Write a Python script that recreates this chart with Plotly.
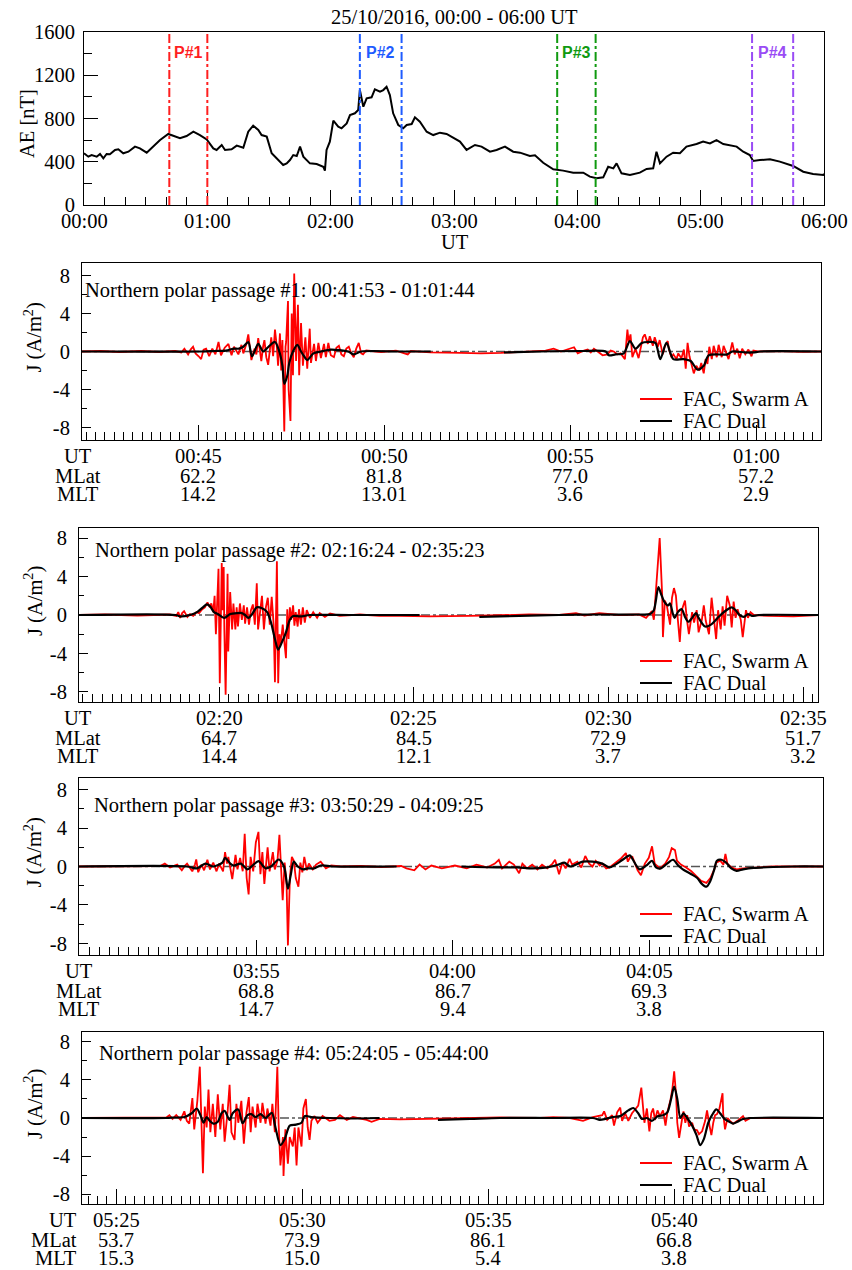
import plotly.graph_objects as go

W, H = 852, 1270
SERIF = "Liberation Serif"
SANS = "Liberation Sans"
FS = 20.5

# ---------------------------------------------------------------------------
# AE index, 25/10/2016 00:00-06:00 UT  (minutes after 00:00 UT, nT)
# ---------------------------------------------------------------------------
ae_min = [0, 2.1, 3.7, 6.2, 7.8, 9.4, 11.0, 12.6, 15.1, 16.7,
          19.1, 21.6, 24.8, 27.2, 30.5, 33.7, 37.0, 41.0, 43.4, 46.7,
          49.9, 53.2, 56.4, 59.7, 62.9, 64.5, 67.0, 68.6, 71.8, 74.3,
          77.5, 79.9, 82.3, 84.8, 86.4, 88.9, 91.3, 94.5, 96.9, 98.6,
          100.2, 101.8, 103.5, 105.1, 106.7, 109.9, 113.2, 116.4, 117.2, 118.0,
          119.6, 121.3, 123.7, 125.3, 127.8, 129.4, 131.8, 133.4, 134.2, 135.9,
          137.5, 139.9, 141.5, 144.0, 145.6, 147.2, 148.8, 150.4, 152.9, 155.3,
          157.0, 159.4, 161.0, 163.4, 166.7, 169.9, 173.2, 176.4, 182.9, 186.1,
          190.2, 193.4, 197.5, 200.7, 204.8, 208.8, 212.1, 216.9, 219.4, 223.4,
          228.3, 233.1, 238.0, 242.9, 246.1, 249.4, 252.6, 255.0, 257.5, 259.1,
          261.5, 265.6, 270.4, 273.7, 276.9, 278.5, 280.2, 283.4, 286.6, 289.9,
          293.1, 298.0, 301.2, 304.5, 307.7, 311.0, 314.2, 317.5, 320.7, 323.9,
          325.5, 328.8, 333.7, 338.5, 345.0, 349.9, 354.7, 359.6, 360.0]
ae_nT = [478, 447, 462, 447, 472, 432, 472, 469, 509, 515,
         478, 493, 540, 524, 484, 540, 601, 657, 638, 617,
         638, 678, 647, 607, 524, 509, 555, 509, 515, 549,
         530, 678, 734, 694, 647, 632, 478, 416, 370, 385,
         416, 462, 453, 540, 447, 385, 379, 354, 318, 509,
         586, 780, 724, 709, 755, 832, 848, 879, 1063, 909,
         986, 996, 1070, 1048, 1063, 1094, 1017, 848, 740, 709,
         740, 749, 811, 771, 678, 647, 669, 657, 586, 509,
         555, 540, 493, 509, 540, 493, 484, 453, 459, 391,
         330, 318, 299, 299, 262, 247, 256, 354, 339, 385,
         293, 277, 299, 333, 339, 493, 385, 447, 484, 478,
         540, 564, 586, 570, 601, 564, 555, 540, 493, 462,
         407, 416, 422, 401, 361, 308, 287, 277, 290]
ae_tick_min = [0, 60, 120, 180, 240, 300, 360]
ae_tick_text = ["00:00", "01:00", "02:00", "03:00", "04:00", "05:00", "06:00"]
ae_y_ticks = [0, 400, 800, 1200, 1600]

# Passage windows marked on the AE panel (minutes after 00:00 UT)
pass_names = ["P#1", "P#2", "P#3", "P#4"]
pass_mark_start_min = [41.5, 134.2, 230.2, 325.0]
pass_mark_end_min = [60.0, 154.5, 248.9, 345.0]
pass_colors = ["#ff1f1f", "#1f5cff", "#109a10", "#9a4cf5"]

# ---------------------------------------------------------------------------
# Northern polar passages (UT)
# ---------------------------------------------------------------------------
pass_start = ["00:41:53", "02:16:24", "03:50:29", "05:24:05"]
pass_end = ["01:01:44", "02:35:23", "04:09:25", "05:44:00"]

j_tick_vals = [-8, -4, 0, 4, 8]
j_tick_text = ["-8", "-4", "0", "4", "8"]

# Passage #1 (times in s after passage start, J in A/m^2)
p1_fac_t = [0, 30, 60, 95, 125, 150, 160, 163, 165, 171,
            175, 179, 183, 188, 192, 196, 200, 205, 210, 215,
            220, 224, 230, 236, 241, 245, 252, 257, 260, 265,
            268, 271, 273, 278, 281, 284, 289, 292, 294, 297,
            300, 303, 305, 308, 311, 314, 316, 319, 321, 323,
            326, 328, 329, 332, 333, 336, 338, 340, 342, 345,
            347, 348, 350, 353, 356, 360, 363, 367, 369, 374,
            377, 381, 385, 390, 393, 397, 401, 406, 410, 414,
            418, 422, 426, 430, 434, 438, 442, 446, 450, 453,
            458, 482, 506, 525, 530, 562, 611, 643, 675, 699,
            723, 747, 760, 772, 793, 799, 809, 815, 820, 825,
            831, 839, 847, 852, 857, 863, 868, 875, 879, 881,
            884, 887, 892, 897, 904, 907, 912, 915, 920, 923,
            928, 931, 936, 939, 944, 946, 950, 953, 958, 961,
            966, 970, 973, 976, 979, 982, 986, 990, 995, 998,
            1002, 1005, 1008, 1011, 1015, 1018, 1023, 1026, 1031, 1034,
            1039, 1042, 1048, 1052, 1056, 1060, 1064, 1069, 1074, 1079,
            1082, 1089, 1125, 1158, 1191]
p1_fac_j = [0, 0.05, -0.05, 0.05, -0.05, 0.05, -0.1, 0.1, 0.3, -0.3,
            0.2, 0.5, -0.2, -0.5, -0.8, 0.2, 0.3, -0.5, 0.3, -0.3,
            1.0, -0.4, 0.4, 0.8, -0.4, 0.5, -0.3, 0.7, -0.2, 0.8,
            1.8, 0.2, -0.9, 0.3, -0.3, 1.4, -1.0, 0.6, 1.2, -0.6,
            -1.4, 0.3, 1.5, -0.5, 2.3, 0.5, -1.5, 1.9, -2.0, 1.2,
            -8.4, 0.5, 1.0, 5.3, -4.0, -7.3, 4.0, -2.5, 8.2, -1.0,
            2.0, 4.9, -2.5, 3.0, -1.5, 1.5, -1.8, 2.4, -1.2, 0.8,
            -1.0, 0.9, -0.7, 0.8, -0.6, 0.9, -0.4, -0.6, 0.4, 0.6,
            -0.3, -0.5, 0.3, 0.5, -0.2, -0.6, 0.3, 0.9, -0.2, -0.3,
            0.1, -0.05, 0.1, -0.3, 0.05, -0.1, -0.15, -0.2, -0.15, -0.05,
            0.0, 0.1, 0.3, 0.0, 0.45, -0.2, 0.1, 0.2, -0.1, 0.3,
            0.0, -0.4, -0.3, 0.1, 0.0, -0.3, -0.2, -0.8, 2.3, 1.0,
            1.8, -0.6, 0.3, -0.7, 1.5, 1.8, 0.8, 1.6, 0.6, 1.5,
            0.5, 1.2, -0.3, 0.5, 1.1, 0.2, -0.6, -0.3, -0.8, -0.2,
            -0.7, 0.2, -1.8, 0.9, -0.5, -1.2, -2.3, -1.5, -2.0, -1.2,
            -2.3, -0.8, -1.3, 0.5, -0.8, 0.6, -0.6, 0.7, -0.6, 0.6,
            -0.3, -0.8, 0.95, -0.3, 0.3, -0.7, 0.3, -0.3, 0.2, -0.5,
            0.1, 0.0, 0.05, -0.03, 0.0]
p1_dual_t = [0, 192, 213, 232, 245, 253, 260, 268, 274, 284,
             292, 302, 311, 318, 323, 326, 331, 334, 340, 347,
             353, 358, 363, 373, 385, 401, 429, 438, 450, 514,
             562, 600, 680, 739, 804, 844, 849, 860, 873, 883,
             892, 902, 912, 924, 932, 942, 953, 969, 981, 992,
             1002, 1010, 1040, 1048, 1069, 1082, 1093, 1191]
p1_dual_j = [0, 0, 0.05, 0.1, 0.3, 0.3, 0.5, 1.0, -0.5, 0.8,
             0.0, 0.6, 1.0, 0.0, -1.5, -3.4, -2.5, -1.2, 0.0, 0.7,
             0.0, -0.5, -0.9, -0.2, 0.0, 0.2, 0.0, -0.3, 0.0, 0.0,
             0.0, None, -0.1, 0.0, 0.05, 0.0, -0.4, -0.3, -0.2, 1.1,
             0.3, 0.9, 1.0, 0.9, -0.8, 0.9, -0.8, -0.8, -1.0, -1.9,
             -1.5, -0.4, -0.3, 0.0, -0.1, -0.1, 0.0, 0.0]
p1_ut = ["00:45", "00:50", "00:55", "01:00"]
p1_mlat = ["62.2", "81.8", "77.0", "57.2"]
p1_mlt = ["14.2", "13.01", "3.6", "2.9"]

# Passage #2
p2_fac_t = [0, 40, 90, 140, 150, 153, 156, 159, 162, 167,
            171, 176, 181, 185, 190, 194, 198, 201, 204, 207,
            209, 211, 214, 215, 217, 220, 221, 223, 224, 226,
            229, 230, 233, 236, 238, 241, 243, 245, 248, 251,
            254, 256, 259, 262, 265, 268, 271, 274, 276, 279,
            282, 285, 288, 291, 294, 297, 300, 302, 304, 305,
            307, 309, 311, 314, 316, 319, 321, 323, 325, 327,
            330, 332, 334, 337, 339, 342, 345, 348, 351, 356,
            361, 367, 371, 379, 387, 402, 433, 463, 494, 540,
            602, 648, 694, 740, 766, 779, 802, 832, 863, 874,
            883, 886, 889, 892, 895, 899, 900, 903, 906, 911,
            914, 917, 920, 923, 926, 929, 934, 937, 940, 945,
            948, 952, 955, 960, 963, 966, 971, 975, 979, 982,
            985, 989, 992, 995, 999, 1003, 1006, 1009, 1012, 1015,
            1020, 1023, 1028, 1031, 1035, 1040, 1063, 1101, 1139]
p2_fac_j = [0, 0.05, -0.05, 0.05, -0.1, 0.3, -0.3, 0.2, 0.4, -0.2,
            0.1, -0.1, 0.3, 0.2, 0.6, 0.8, 1.3, 0.9, 1.2, 0.3,
            2.0, -2.0, 3.0, 4.8, -7.1, 5.4, 0.5, 5.0, -1.5, -8.3,
            4.3, -3.8, 2.4, -1.5, 1.2, -1.5, 0.8, -1.2, 1.2, -0.5,
            1.0, -0.9, 0.8, -1.0, 0.5, 1.1, -1.0, 3.3, -1.5, 0.5,
            2.0, -1.5, 0.8, 1.8, -1.0, 1.9, -1.0, -7.0, 0.5, 5.6,
            -7.1, -2.0, -3.0, -1.0, -2.5, -4.5, 0.6, -2.5, 0.8, -0.5,
            1.0, -1.1, 0.3, -1.2, 0.6, -1.0, 0.8, -0.8, 0.5, -0.3,
            0.3, -0.3, 0.2, -0.2, 0.15, -0.1, 0.05, -0.1, -0.1, -0.15,
            -0.1, -0.05, 0.05, 0.0, 0.2, -0.05, 0.2, 0.0, 0.05, -0.3,
            0.4, -0.5, 2.5, 5.0, 8.0, 1.8, -2.3, 1.5, 1.0, -1.0,
            1.8, 2.8, 2.0, -0.5, -2.8, 0.5, 1.5, -0.5, -2.0, 0.3,
            -0.8, 0.5, -1.8, -0.5, 1.0, -0.6, -2.0, 1.8, -0.8, -2.5,
            0.5, -1.5, 0.9, -1.1, 2.0, 1.0, -1.3, 1.4, -0.3, 0.6,
            -0.5, -2.3, 0.5, -0.3, 0.3, 0.0, -0.1, -0.15, 0.0]
p2_dual_t = [0, 149, 156, 171, 182, 191, 197, 202, 208, 214,
             224, 233, 244, 251, 256, 261, 267, 274, 282, 290,
             296, 302, 307, 313, 319, 325, 330, 341, 356, 417,
             525, 570, 617, 679, 740, 802, 863, 880, 886, 893,
             897, 902, 908, 911, 915, 918, 923, 929, 934, 939,
             945, 951, 955, 965, 974, 983, 992, 1000, 1006, 1012,
             1018, 1025, 1031, 1037, 1048, 1139]
p2_dual_j = [0, 0, -0.15, 0.0, 0.3, 0.8, 1.1, 0.9, 0.3, 0.1,
             -0.3, 0.1, 0.2, 0.2, 0.0, -0.3, 0.1, 0.8, 0.7, 0.3,
             -0.8, -2.5, -3.6, -2.8, -1.8, -0.5, -0.1, -0.15, 0.0, 0.0,
             0.0, None, -0.2, -0.1, 0.0, 0.05, 0.05, 0.1, 0.5, 2.9,
             2.2, 1.4, 1.0, 1.2, 0.2, -0.3, 0.3, 0.6, -0.2, -0.7,
             -0.3, 0.2, -0.3, -1.2, -1.0, -0.4, 0.2, 0.6, 0.8, 0.5,
             0.0, -0.2, 0.1, -0.1, 0.0, 0.0]
p2_ut = ["02:20", "02:25", "02:30", "02:35"]
p2_mlat = ["64.7", "84.5", "72.9", "51.7"]
p2_mlt = ["14.4", "12.1", "3.7", "3.2"]

# Passage #3
p3_fac_t = [0, 50, 100, 124, 131, 139, 150, 157, 162, 165,
            170, 173, 177, 179, 182, 187, 191, 196, 200, 205,
            210, 214, 220, 223, 226, 228, 234, 239, 242, 246,
            250, 253, 256, 259, 262, 266, 270, 274, 277, 280,
            283, 288, 291, 296, 299, 303, 306, 311, 314, 317,
            319, 322, 325, 328, 331, 335, 338, 341, 344, 348,
            351, 357, 362, 369, 377, 385, 400, 431, 462, 492,
            500, 512, 520, 529, 538, 554, 574, 592, 607, 623,
            635, 641, 646, 657, 664, 672, 677, 684, 692, 700,
            707, 715, 723, 727, 733, 738, 743, 749, 753, 761,
            767, 773, 779, 784, 789, 795, 799, 805, 810, 818,
            827, 835, 838, 841, 845, 853, 858, 864, 870, 875,
            879, 887, 895, 901, 905, 910, 913, 919, 927, 935,
            942, 950, 958, 964, 970, 973, 979, 984, 987, 990,
            996, 1004, 1014, 1034, 1060, 1136]
p3_fac_j = [0, 0.0, 0.05, 0.05, 0.3, -0.1, 0.2, -0.4, 0.1, 0.3,
            -0.2, -0.5, 0.2, 0.73, -0.6, 0.2, -0.4, 0.7, -0.3, 0.4,
            -0.5, 0.3, -0.5, 1.5, 0.3, 1.0, -1.3, 1.2, -0.3, 0.9,
            -0.5, 3.4, -1.2, -2.9, 1.0, -0.5, 2.5, 3.6, -0.8, 1.5,
            -1.8, 2.0, -0.5, 1.5, -0.3, 0.6, 3.3, -3.5, 0.4, -2.0,
            -8.2, -1.2, 1.0, 0.6, -1.2, -2.1, 0.4, -0.6, 1.0, -0.4,
            0.3, -0.3, 0.2, 0.5, -0.2, 0.1, 0.0, 0.05, -0.05, 0.05,
            -0.2, -0.4, 0.2, -0.3, 0.1, -0.2, 0.1, -0.2, 0.2, -0.1,
            0.3, 0.7, -0.2, 0.5, 0.2, -0.7, 0.3, -0.2, 0.2, -0.3,
            0.2, -0.2, 0.3, 0.7, -0.8, 0.4, -0.2, 0.8, 0.2, 0.5,
            -0.1, 1.1, 0.3, 0.0, 0.6, 0.1, 0.3, -0.2, -0.1, 0.3,
            0.8, 1.4, 0.5, 0.9, 1.0, -0.4, -0.9, 0.3, 0.9, 2.1,
            0.3, -0.2, 0.3, 1.0, 1.9, 1.7, 0.6, 0.2, -0.1, -0.5,
            -1.0, -1.5, -1.7, -1.2, -0.3, 0.4, 0.6, 0.2, 1.3, 0.3,
            -0.1, -0.3, -0.2, -0.1, 0.0, 0.0]
p3_dual_t = [0, 165, 180, 193, 205, 219, 223, 231, 236, 247,
             257, 265, 274, 285, 293, 305, 313, 319, 323, 328,
             334, 342, 349, 359, 369, 389, 485, 530, 584, 641,
             669, 692, 715, 732, 741, 750, 769, 784, 799, 810,
             819, 830, 841, 845, 856, 868, 875, 881, 888, 898,
             907, 915, 922, 935, 944, 951, 958, 964, 970, 974,
             981, 988, 996, 1004, 1014, 1030, 1060, 1091, 1136]
p3_dual_j = [0, 0, -0.2, 0.3, 0.0, 0.4, 0.9, 0.3, 0.1, 0.3,
             -0.3, 0.1, 0.55, -0.2, 0.0, 0.73, 0.0, -2.3, -1.0, 0.5,
             0.0, -0.3, -0.2, -0.2, 0.1, 0.0, 0.0, None, 0.0, -0.1,
             -0.1, -0.2, -0.1, 0.2, 0.4, 0.0, 0.5, 0.5, 0.3, -0.1,
             0.2, 0.7, 1.15, 0.8, -0.3, 0.2, 0.6, -0.1, -0.2, 0.3,
             0.7, 0.1, -0.3, -0.8, -1.2, -1.8, -2.1, -1.5, -0.3, 0.6,
             0.7, 0.4, -0.2, -0.45, -0.3, -0.15, -0.05, 0.0, 0.0]
p3_ut = ["03:55", "04:00", "04:05"]
p3_mlat = ["68.8", "86.7", "69.3"]
p3_mlt = ["14.7", "9.4", "3.8"]

# Passage #4
p4_fac_t = [0, 50, 100, 130, 136, 141, 146, 152, 159, 165,
            169, 173, 178, 181, 186, 190, 193, 195, 198, 201,
            204, 207, 211, 215, 219, 223, 227, 230, 235, 238,
            241, 246, 249, 252, 257, 261, 265, 269, 272, 275,
            280, 283, 288, 291, 296, 299, 304, 307, 311, 315,
            317, 320, 324, 325, 328, 332, 335, 340, 343, 346,
            349, 354, 357, 361, 364, 367, 370, 375, 380, 388,
            399, 408, 416, 427, 437, 459, 467, 480, 513, 561,
            609, 674, 739, 760, 787, 808, 824, 839, 842, 847,
            855, 858, 863, 868, 871, 876, 881, 887, 892, 897,
            902, 905, 907, 911, 915, 918, 921, 924, 928, 932,
            937, 941, 944, 949, 952, 955, 958, 960, 963, 968,
            970, 973, 976, 979, 984, 987, 992, 995, 1000, 1005,
            1008, 1012, 1015, 1018, 1021, 1024, 1028, 1033, 1034, 1037,
            1041, 1045, 1050, 1057, 1062, 1066, 1070, 1078, 1142, 1195]
p4_fac_j = [0, 0.0, 0.05, 0.0, 0.05, 0.3, -0.1, 0.3, -0.2, 0.7,
            -0.3, -0.6, 2.1, -1.2, 1.8, 5.4, -2.5, -5.8, 1.2, -1.0,
            3.0, -1.5, 1.5, -2.0, 2.5, -1.2, 1.5, -2.5, 0.8, 3.5,
            -1.5, -2.3, 1.5, -0.5, 1.8, -2.7, 0.5, 2.2, -1.5, 1.2,
            -1.0, 1.5, -0.5, 1.6, -0.6, 1.0, -0.8, 1.5, -1.5, 5.4,
            -0.5, -5.0, -2.0, -6.1, -1.2, -4.8, -2.0, -3.0, -1.0, -5.0,
            -1.0, -3.0, 1.0, 2.0, -1.0, -2.3, -0.3, 0.2, -0.5, 0.2,
            -0.3, -0.2, 0.3, -0.2, 0.1, -0.2, -0.4, -0.1, -0.15, -0.1,
            0.0, 0.05, 0.0, 0.1, 0.0, -0.3, 0.1, 0.3, 0.7, -0.2,
            0.3, -0.8, 0.6, 1.1, -0.3, 0.5, -0.3, 0.5, 0.9, 1.3,
            3.2, 0.5, -0.5, 1.0, -1.4, 0.5, 1.0, -0.2, 0.8, 0.2,
            0.8, -0.8, 0.6, 1.9, 3.0, 4.9, 2.5, -0.5, -2.1, 0.0,
            0.7, -0.5, 0.3, -0.9, -0.5, -1.2, -1.3, -1.7, -1.4, -0.3,
            0.8, -0.8, -1.8, -0.5, 0.3, 0.4, 1.0, 2.6, 0.5, -1.2,
            0.0, -0.3, -0.6, -0.3, 0.0, 0.2, -0.3, 0.0, 0.0, 0.0]
p4_dual_t = [0, 136, 149, 165, 177, 185, 191, 196, 201, 206,
             212, 219, 225, 230, 238, 243, 252, 259, 267, 273,
             280, 288, 296, 306, 312, 320, 327, 335, 345, 354,
             359, 370, 399, 432, 480, 530, 574, 626, 674, 755,
             824, 835, 844, 855, 868, 881, 889, 897, 903, 911,
             919, 929, 937, 944, 950, 955, 960, 965, 970, 976,
             984, 991, 997, 1003, 1010, 1016, 1023, 1029, 1036, 1044,
             1050, 1057, 1066, 1078, 1195]
p4_dual_j = [0, 0, 0.05, 0.1, 0.5, 1.0, 0.3, -0.5, 0.1, -0.3,
             -0.6, -0.4, 0.5, 0.75, -0.2, 0.5, 0.9, -0.55, 0.3, 0.4,
             0.1, 0.4, 0.0, 0.55, -1.0, -2.85, -2.2, -0.8, -0.7, -0.5,
             0.2, 0.1, 0.0, -0.05, 0.0, None, -0.2, -0.1, 0.0, 0.0,
             0.0, -0.2, -0.1, 0.1, 0.2, 0.8, 1.05, 0.5, -0.1, 0.0,
             -0.3, 0.2, 0.3, 0.6, 2.0, 3.3, 2.0, 0.0, 0.5, 0.0,
             -0.8, -1.8, -2.85, -2.2, -0.5, 0.3, 0.9, 0.5, -0.1, -0.4,
             -0.6, -0.4, -0.1, 0.0, 0.0]
p4_ut = ["05:25", "05:30", "05:35", "05:40"]
p4_mlat = ["53.7", "73.9", "86.1", "66.8"]
p4_mlt = ["15.3", "15.0", "5.4", "3.8"]

passages = [
    (p1_fac_t, p1_fac_j, p1_dual_t, p1_dual_j, p1_ut, p1_mlat, p1_mlt),
    (p2_fac_t, p2_fac_j, p2_dual_t, p2_dual_j, p2_ut, p2_mlat, p2_mlt),
    (p3_fac_t, p3_fac_j, p3_dual_t, p3_dual_j, p3_ut, p3_mlat, p3_mlt),
    (p4_fac_t, p4_fac_j, p4_dual_t, p4_dual_j, p4_ut, p4_mlat, p4_mlt),
]

# ---------------------------------------------------------------------------
# Page geometry (pixels: left, top, right, bottom)
# ---------------------------------------------------------------------------
ae_box = (84, 32, 824, 205)
panel_boxes = [(82, 263, 821, 440), (79, 528, 818, 702),
               (79, 778, 823, 955), (82, 1032, 823, 1204)]
panel_ylim = [9.3, 9.05, 9.2, 9.05]
panel_text_xy = [(83, 290), (93, 550), (92, 805), (97, 1053)]
row_label_x = [78, 78, 79, 79]
row_label_anchor = ["center", "center", "center", "right"]


def hms(s):
    parts = [int(v) for v in s.split(":")]
    parts += [0] * (3 - len(parts))
    return parts[0] * 3600 + parts[1] * 60 + parts[2]


def fx(px):
    return px / W


def fy(py):
    return 1 - py / H


axis_font = dict(family=SERIF, size=FS, color="black")
frame = dict(showline=True, linecolor="black", linewidth=1, mirror=True,
             showgrid=False, zeroline=False, automargin=False)


def minor(dtick, ticklen):
    return dict(tickmode="linear", tick0=0, dtick=dtick, ticks="inside",
                ticklen=ticklen, tickcolor="black", tickwidth=1, showgrid=False)


fig = go.Figure()
annotations = []
shapes = []


def text(s, x, y, xref="paper", xanchor="center", size=FS, family=SERIF,
         color="black", angle=0):
    annotations.append(dict(
        text=s, x=x if xref != "paper" else fx(x), y=fy(y), xref=xref, yref="paper",
        xanchor=xanchor, yanchor="middle", showarrow=False, textangle=angle,
        font=dict(family=family, size=size, color=color)))


# ---- AE panel -------------------------------------------------------------
L, T, R, B = ae_box
layout = dict(
    width=W, height=H, margin=dict(l=0, r=0, t=0, b=0, autoexpand=False),
    paper_bgcolor="white", plot_bgcolor="white", showlegend=False,
    xaxis=dict(domain=[fx(L), fx(R)], range=[0, 360], anchor="y",
               tickmode="array", tickvals=ae_tick_min, showticklabels=False,
               ticks="inside", ticklen=15, tickcolor="black", tickwidth=1,
               minor=minor(10, 8), **frame),
    yaxis=dict(domain=[fy(B), fy(T)], range=[0, 1600], anchor="x",
               tickmode="array", tickvals=ae_y_ticks, ticktext=[str(v) for v in ae_y_ticks],
               ticks="inside", ticklen=14, tickcolor="black", tickwidth=1,
               minor=minor(200, 8), tickfont=axis_font, ticklabelstandoff=4, **frame),
)

fig.add_trace(go.Scatter(x=ae_min, y=ae_nT, mode="lines",
                         line=dict(color="black", width=2), xaxis="x", yaxis="y"))

for name, t0, t1, col in zip(pass_names, pass_mark_start_min, pass_mark_end_min, pass_colors):
    for tm in (t0, t1):
        shapes.append(dict(type="line", xref="x", yref="y domain", x0=tm, x1=tm, y0=0, y1=1,
                           line=dict(color=col, width=2, dash="dashdot")))
    annotations.append(dict(text="<b>%s</b>" % name, x=(t0 + t1) / 2, y=0.884,
                            xref="x", yref="y domain", showarrow=False,
                            xanchor="center", yanchor="middle",
                            font=dict(family=SANS, size=16, color=col)))

# hour labels under the AE axis
for tm, lab in zip(ae_tick_min, ae_tick_text):
    text(lab, tm, 221, xref="x")

text("25/10/2016, 00:00 - 06:00 UT", (L + R) / 2, 17)
text("AE [nT]", 27, 124, angle=-90)
text("UT", 455, 242)

# ---- FAC panels -----------------------------------------------------------
for k, (fac_t, fac_j, dual_t, dual_j, ut, mlat, mlt) in enumerate(passages):
    n = k + 2
    xa, ya = "x%d" % n, "y%d" % n
    L, T, R, B = panel_boxes[k]
    s0, s1 = hms(pass_start[k]), hms(pass_end[k])
    lim = panel_ylim[k]

    layout["xaxis%d" % n] = dict(
        domain=[fx(L), fx(R)], range=[s0, s1], anchor=ya,
        tickmode="array", tickvals=[hms(u) for u in ut], showticklabels=False,
        ticks="inside", ticklen=15, tickcolor="black", tickwidth=1,
        minor=minor(15, 8), **frame)
    layout["yaxis%d" % n] = dict(
        domain=[fy(B), fy(T)], range=[-lim, lim], anchor=xa,
        tickmode="array", tickvals=j_tick_vals, ticktext=j_tick_text,
        ticks="inside", ticklen=9, tickcolor="black", tickwidth=1,
        minor=minor(2, 5), tickfont=axis_font, ticklabelstandoff=7, **frame)

    # dashed zero reference
    shapes.append(dict(type="line", xref="%s domain" % xa, yref=ya, x0=0, x1=1, y0=0, y1=0,
                       line=dict(color="#555555", width=1.5, dash="dashdot"), layer="below"))

    fig.add_trace(go.Scatter(x=[s0 + t for t in fac_t], y=fac_j, mode="lines",
                             line=dict(color="#ff0000", width=1.8), xaxis=xa, yaxis=ya))
    fig.add_trace(go.Scatter(x=[s0 + t for t in dual_t], y=dual_j, mode="lines",
                             line=dict(color="black", width=2.2, shape="spline", smoothing=0.8),
                             connectgaps=False, xaxis=xa, yaxis=ya))

    # passage caption
    tx, ty = panel_text_xy[k]
    text("Northern polar passage #%d: %s - %s" % (k + 1, pass_start[k], pass_end[k]),
         tx, ty, xanchor="left")

    # y title
    text("J (A/m<sup>2</sup>)", 33, (T + B) / 2 - 14, angle=-90)

    # legend
    for dy, col, lab in ((-41, "#ff0000", "FAC, Swarm A"), (-19, "black", "FAC Dual")):
        shapes.append(dict(type="line", xref="paper", yref="paper",
                           x0=fx(640), x1=fx(672), y0=fy(B + dy), y1=fy(B + dy),
                           line=dict(color=col, width=2)))
        text(lab, 681, B + dy, xanchor="left")

    # UT / MLat / MLT rows under the axis
    rows = [("UT", ut), ("MLat", mlat), ("MLT", mlt)]
    for (lab, vals), dy in zip(rows, (16, 36, 54)):
        text(lab, row_label_x[k], B + dy, xanchor=row_label_anchor[k])
        for u, v in zip(ut, vals):
            text(v, hms(u), B + dy, xref=xa)

layout["annotations"] = annotations
layout["shapes"] = shapes
fig.update_layout(**layout)
fig.write_html("out.html")
